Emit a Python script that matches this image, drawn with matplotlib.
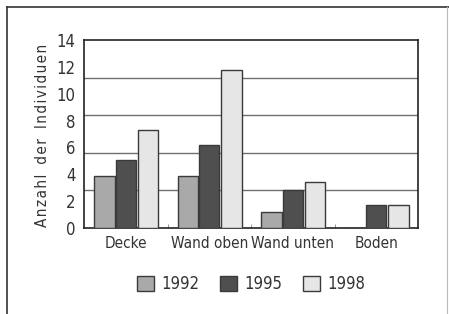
import matplotlib
matplotlib.use("Agg")
import matplotlib.pyplot as plt
from matplotlib.patches import Patch
from matplotlib.lines import Line2D
import numpy as np

categories = ["Decke", "Wand oben", "Wand unten", "Boden"]
years = ["1992", "1995", "1998"]
v1992 = [3.9, 3.9, 1.2, 0.0]
v1995 = [5.05, 6.2, 2.8, 1.7]
v1998 = [7.3, 11.8, 3.4, 1.7]
yticks = [0, 2, 4, 6, 8, 10, 12, 14]
gridvals = [2.8, 5.6, 8.4, 11.2]
ylabel = "Anzahl der Individuen"

colors = ["#a9a9a9", "#4f4f4f", "#e6e6e6"]
edge = "#3a3a3a"
plt.rcParams['font.family'] = ["DejaVu Sans"]
plt.rcParams['font.stretch'] = 'condensed'

fig = plt.figure(figsize=(4.49, 3.14), dpi=100)
ax = fig.add_axes([84/449, 1-228/314, (418-84)/449, (228-40)/314])

x = np.arange(len(categories))
w = 0.245
offs = [-0.255, 0.0, 0.265]
for vals, c, o, lab in zip([v1992, v1995, v1998], colors, offs, years):
    ax.bar(x + o, vals, width=w, color=c, edgecolor=edge, linewidth=1.0, label=lab, zorder=3)

for g in gridvals:
    ax.axhline(g, color="#707070", linewidth=1.0, zorder=1)

ax.set_xlim(-0.5, 3.5)
ax.set_ylim(0, 14)
ax.set_yticks(yticks)
ax.set_yticklabels([str(t) for t in yticks], fontsize=12, color="#333333")
ax.tick_params(axis='y', length=0, pad=6)
ax.set_xticks(x)
ax.set_xticklabels(categories, fontsize=11, color="#333333")
ax.tick_params(axis='x', length=0, pad=6)
ax.set_xticks([0.5, 1.5, 2.5], minor=True)
ax.tick_params(axis='x', which='minor', direction='in', length=3, color="#888888")
for s in ax.spines.values():
    s.set_color("#222222")
    s.set_linewidth(1.2)

spaced = "\u200a".join(ylabel).replace("\u200a \u200a", "\u2009 \u2009")
fig.text(43/449, 1-135/314, spaced, rotation=90,
         ha='center', va='center', fontsize=11, color="#333333")

handles = [Patch(facecolor=c, edgecolor=edge, label=y) for c, y in zip(colors, years)]
fig.legend(handles=handles, loc='center', bbox_to_anchor=(251/449, 1-284/314), ncol=3,
           frameon=False, fontsize=12, handlelength=1.0, handleheight=1.0,
           columnspacing=1.25, handletextpad=0.45, labelcolor="#333333")

# outer frame of the scanned figure
fig.add_artist(Line2D([7/449, 7/449], [0, 1-7/314], color="#333333", linewidth=1.2))
fig.add_artist(Line2D([7/449, 1], [1-7/314, 1-7/314], color="#333333", linewidth=1.2))
fig.add_artist(Line2D([447/449, 447/449], [0, 1-7/314], color="#bbbbbb", linewidth=0.8))

fig.savefig("out.png", dpi=100)
